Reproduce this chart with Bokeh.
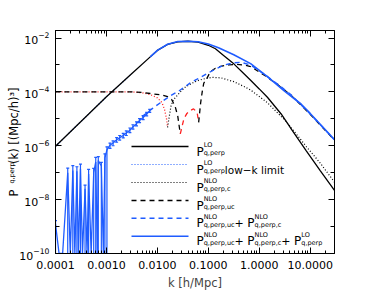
import numpy as np
from bokeh.plotting import figure
from bokeh.models import (LogAxis, FixedTicker, PrintfTickFormatter, LogTickFormatter,
                          Label, Range1d, Whisker, ColumnDataSource, TeeHead)
from bokeh.embed import file_html
from bokeh.resources import INLINE

# ---------------- data: log10 k [h/Mpc], log10 |P| [(Mpc/h)^3] ----------------
# P^LO_q,perp (black solid)
lo_logk = [-4.0, -3.5, -3.0, -2.5, -2.14, -2.0, -1.8, -1.6, -1.4, -1.2, -1.0, -0.86,
           -0.7, -0.5, -0.3, -0.17, 0.0, 0.16, 0.43, 0.63, 0.92, 1.2, 1.48]
lo_logP = [-6.02, -5.10, -4.18, -3.32, -2.70, -2.46, -2.24, -2.14, -2.12, -2.15, -2.27, -2.40,
           -2.65, -2.96, -3.33, -3.57, -3.89, -4.20, -4.82, -5.38, -6.18, -6.93, -7.67]
# low-k limit (blue dotted), follows LO at low k
lowk_logk = [-4.0, -3.5, -3.0, -2.5]
lowk_logP = [-6.02, -5.10, -4.18, -3.32]
# total P^NLO_uc + P^NLO_c + P^LO (blue solid)
tot_logk = [-2.14, -2.0, -1.8, -1.6, -1.4, -1.2, -1.0, -0.8, -0.5, -0.17, 0.16, 0.49, 0.82, 1.0, 1.22, 1.48]
tot_logP = [-2.70, -2.46, -2.23, -2.13, -2.12, -2.14, -2.22, -2.36, -2.62, -2.95, -3.43, -3.96, -4.45, -4.80, -5.25, -5.78]
# P^NLO_q,perp,uc (dashed): positive part 1, negative part (red), positive part 2
uc_pos1_logk = [-4.0, -3.0, -2.5, -2.3, -2.14, -1.9, -1.8, -1.72, -1.65, -1.6, -1.55]
uc_pos1_logP = [-4.0, -4.0, -4.0, -4.02, -4.06, -4.12, -4.18, -4.28, -4.55, -4.90, -5.56]
uc_neg_logk = [-1.55, -1.48, -1.42, -1.35, -1.29, -1.22, -1.19]
uc_neg_logP = [-5.56, -5.00, -4.80, -4.69, -4.63, -4.76, -5.13]
uc_pos2_logk = [-1.19, -1.15, -1.12, -1.09, -1.02, -0.96, -0.86, -0.76, -0.6, -0.45, -0.3, -0.17,
                0.1, 0.36, 0.62, 1.0, 1.48]
uc_pos2_logP = [-5.13, -4.40, -4.00, -3.68, -3.47, -3.25, -3.12, -3.05, -3.00, -2.98, -3.00, -3.06,
                -3.38, -3.73, -4.12, -4.83, -5.80]
# P^NLO_q,perp,c (dotted): negative part (red), positive part (black)
c_neg_logk = [-4.0, -3.0, -2.5, -2.3, -2.14, -2.0, -1.91, -1.86, -1.82, -1.80]
c_neg_logP = [-4.0, -4.0, -4.0, -4.03, -4.10, -4.22, -4.40, -4.65, -5.00, -5.32]
c_pos_logk = [-1.80, -1.77, -1.73, -1.68, -1.55, -1.45, -1.3, -1.19, -1.05, -0.92, -0.75, -0.5,
              -0.3, -0.17, 0.16, 0.36, 0.53, 0.92, 1.2, 1.48]
c_pos_logP = [-5.32, -4.95, -4.50, -4.28, -4.00, -3.82, -3.66, -3.57, -3.50, -3.46, -3.48, -3.62,
              -3.80, -3.93, -4.40, -4.78, -5.10, -6.02, -6.65, -7.36]
# P^NLO_uc + P^NLO_c (blue dashed)
ucc_logk = [-2.3, -2.1, -1.94, -1.75, -1.58, -1.35, -1.22, -1.0, -0.89, -0.69, -0.5, -0.36,
            -0.17, 0.1, 0.36, 0.62, 1.0, 1.48]
ucc_logP = [-4.92, -4.62, -4.40, -4.15, -3.97, -3.66, -3.53, -3.30, -3.18, -3.00, -2.92, -2.90,
            -3.00, -3.35, -3.71, -4.10, -4.82, -5.79]
# measured sum (blue, with error bars); -10 marks negative values (clipped at the floor)
sim_logk = [-4.00, -3.93, -3.86, -3.76, -3.71, -3.66, -3.62, -3.58, -3.55, -3.51, -3.47, -3.42,
            -3.38, -3.35, -3.30, -3.25, -3.21, -3.18, -3.16, -3.10, -3.06, -3.03, -2.99, -2.93,
            -2.87, -2.80, -2.74, -2.67, -2.61, -2.54, -2.48, -2.41, -2.35, -2.28, -2.21, -2.15]
sim_logP = [-8.90, -10, -10, -7.00, -10, -6.92, -10, -6.95, -10, -6.85, -10, -7.60,
            -10, -7.05, -10, -7.00, -6.60, -10, -6.55, -6.75, -10, -6.45, -6.15, -5.98,
            -5.90, -5.78, -5.70, -5.62, -5.53, -5.42, -5.30, -5.18, -5.06, -4.95, -4.82, -4.70]
sim_hi = [-8.78, -10, -10, -6.83, -10, -6.74, -10, -6.78, -10, -6.68, -10, -7.46,
          -10, -6.88, -10, -6.84, -6.43, -10, -6.40, -6.62, -10, -6.30, -6.04, -5.90,
          -5.82, -5.70, -5.62, -5.54, -5.45, -5.34, -5.22, -5.11, -4.99, -4.88, -4.76, -4.65]
sim_lo = [-10, -10, -10, -10, -10, -10, -10, -10, -10, -10, -10, -10,
          -10, -10, -10, -10, -10, -10, -10, -10, -10, -10, -10, -6.10,
          -6.00, -5.87, -5.79, -5.71, -5.62, -5.51, -5.38, -5.26, -5.14, -5.03, -4.89, -4.76]

x_major = [1e-4, 1e-3, 1e-2, 1e-1, 1e0, 1e1]
y_major = [1e-10, 1e-8, 1e-6, 1e-4, 1e-2]
y_minor = [1e-9, 1e-7, 1e-5, 1e-3]

BLUE = "#1f5cff"
RED = "#ff2020"
BLACK = "#000000"
FONT = "DejaVu Sans"

XL, XR = 1e-4, 30.0
YB, YT = 1e-10, 1.9e-2
W, H = 370, 296
ML, MR, MT, MB = 55, 36, 30, 43
FW, FH = W - ML - MR, H - MT - MB
OFF = 0  # page offset of the figure in the screenshot

def P(a):
    return [10.0 ** v for v in a]

# image-pixel -> data helpers (for annotation placement only)
def px2x(px):
    f = (px - OFF - ML) / FW
    return 10 ** (np.log10(XL) + f * (np.log10(XR) - np.log10(XL)))

def px2y(py):
    f = (MT + FH - (py - OFF)) / FH
    return 10 ** (np.log10(YB) + f * (np.log10(YT) - np.log10(YB)))

p = figure(width=W, height=H, x_axis_type="log", y_axis_type="log",
           x_range=Range1d(XL, XR), y_range=Range1d(YB, YT),
           output_backend="svg", toolbar_location=None,
           min_border_left=ML, min_border_right=MR, min_border_top=MT, min_border_bottom=MB)
p.grid.visible = False
p.outline_line_color = BLACK
p.background_fill_color = "white"
p.border_fill_color = "white"

x_minor = [m * 10.0 ** e for e in range(-4, 2) for m in range(2, 10) if m * 10.0 ** e < XR]

def style_x(ax, labels):
    ax.ticker = FixedTicker(ticks=x_major, minor_ticks=x_minor)
    ax.major_tick_in, ax.major_tick_out = 6, 0
    ax.minor_tick_in, ax.minor_tick_out = 3, 0
    ax.axis_line_color = BLACK
    ax.major_tick_line_color = BLACK
    ax.minor_tick_line_color = BLACK
    if labels:
        ax.formatter = PrintfTickFormatter(format="%.4f")
        ax.major_label_text_font = FONT
        ax.major_label_text_font_size = "11px"
        ax.major_label_text_color = BLACK
        ax.major_label_standoff = 7
    else:
        ax.major_label_text_font_size = "1px"
        ax.major_label_text_alpha = 0.0
        ax.major_label_standoff = 0

def style_y(ax, labels):
    ax.ticker = FixedTicker(ticks=y_major, minor_ticks=y_minor)
    ax.major_tick_in, ax.major_tick_out = 6, 0
    ax.minor_tick_in, ax.minor_tick_out = 4, 0
    ax.axis_line_color = BLACK
    ax.major_tick_line_color = BLACK
    ax.minor_tick_line_color = BLACK
    if labels:
        ax.formatter = LogTickFormatter()
        ax.major_label_text_font = FONT
        ax.major_label_text_font_size = "11px"
        ax.major_label_text_color = BLACK
        ax.major_label_standoff = 6
    else:
        ax.major_label_text_font_size = "1px"
        ax.major_label_text_alpha = 0.0
        ax.major_label_standoff = 0

style_x(p.xaxis[0], True)
p.xaxis[0].axis_label = "k [h/Mpc]"
p.xaxis[0].axis_label_text_font = FONT
p.xaxis[0].axis_label_text_font_size = "11.5px"
p.xaxis[0].axis_label_text_font_style = "normal"
p.xaxis[0].axis_label_standoff = 4
style_y(p.yaxis[0], True)

top = LogAxis()
style_x(top, False)
p.add_layout(top, "above")
right = LogAxis()
style_y(right, False)
p.add_layout(right, "right")

# ---------------- y-axis label ----------------
# subscript: the axis' own label (pushed down with no-break spaces);
# main text: label of an outer tick-less axis, pulled in so it overlaps like a subscript line
NB = "\u00a0"
p.yaxis[0].axis_label = "q,perp" + NB * 30
p.yaxis[0].axis_label_text_font = FONT
p.yaxis[0].axis_label_text_font_size = "6.5px"
p.yaxis[0].axis_label_text_font_style = "normal"
p.yaxis[0].axis_label_text_color = BLACK
p.yaxis[0].axis_label_standoff = 0

outer = LogAxis(ticker=FixedTicker(ticks=[]))
outer.axis_line_color = None
outer.major_tick_line_color = None
outer.minor_tick_line_color = None
outer.major_label_standoff = 0
outer.major_tick_in = outer.major_tick_out = 0
outer.minor_tick_in = outer.minor_tick_out = 0
outer.axis_label = "P" + NB * 7 + "(k) [(Mpc/h)\u00b3]"
outer.axis_label_text_font = FONT
outer.axis_label_text_font_size = "11.5px"
outer.axis_label_text_font_style = "normal"
outer.axis_label_text_color = BLACK
outer.axis_label_standoff = -15
p.add_layout(outer, "left")

# ---------------- curves ----------------
p.line(P(lowk_logk), P(lowk_logP), line_color=BLUE, line_dash="1 2", line_width=1.2)
p.line(P(c_neg_logk), P(c_neg_logP), line_color=RED, line_dash="1 2", line_width=1.3)
p.line(P(c_pos_logk), P(c_pos_logP), line_color=BLACK, line_dash="1 2", line_width=1.2)
p.line(P(uc_pos1_logk), P(uc_pos1_logP), line_color=BLACK, line_dash="5 4", line_width=1.3)
p.line(P(uc_neg_logk), P(uc_neg_logP), line_color=RED, line_dash="5 4", line_width=1.3)
p.line(P(uc_pos2_logk), P(uc_pos2_logP), line_color=BLACK, line_dash="5 4", line_width=1.3)
p.line(P(ucc_logk), P(ucc_logP), line_color=BLUE, line_dash="5 4", line_width=1.4)

# measured data with error bars
p.line(P(sim_logk), P(sim_logP), line_color=BLUE, line_width=1.3)
eb = [i for i in range(len(sim_logk)) if sim_hi[i] > -10]
src = ColumnDataSource(dict(k=[10 ** sim_logk[i] for i in eb],
                            hi=[10 ** sim_hi[i] for i in eb],
                            lo=[10 ** sim_lo[i] for i in eb]))
p.add_layout(Whisker(source=src, base="k", upper="hi", lower="lo", dimension="height",
                     line_color=BLUE, line_width=1.2,
                     upper_head=TeeHead(size=3, line_color=BLUE, line_width=1.2),
                     lower_head=TeeHead(size=3, line_color=BLUE, line_width=1.2)))

p.line(P(lo_logk), P(lo_logP), line_color=BLACK, line_width=1.3)
p.line(P(tot_logk), P(tot_logP), line_color=BLUE, line_width=1.6)

# ---------------- manual legend ----------------
WID = {'P': .603, 'L': .557, 'O': .787, 'N': .748, 'q': .635, 'p': .635, 'e': .615, 'r': .411,
       'c': .55, 'u': .634, ',': .318, 'l': .278, 'o': .612, 'w': .818, '\u2212': .838,
       'k': .579, ' ': .318, 'i': .278, 'm': .974, 't': .392, '+': .838, '(': .39, ')': .39,
       '[': .39, ']': .39, 'M': .863, '/': .337, 'h': .634, '3': .636}

def tw(s, size):
    return sum(WID.get(ch, .6) for ch in s) * size

def lab(x, y, text, size, angle=0.0):
    p.add_layout(Label(x=x, y=y, text=text, text_font=FONT, text_font_size=f"{size}px",
                       text_color=BLACK, text_baseline="alphabetic", text_align="left",
                       angle=angle))

def rich(x0, base, parts):
    """parts: list of (kind, text); kind 'n' normal, 'ss' (sup, sub) pair"""
    x = x0
    for kind, t in parts:
        if kind == "n":
            lab(px2x(x), px2y(base), t, 12 if t == "P" else 11)
            x += tw(t, 12 if t == "P" else 11)
        elif kind == "t":
            lab(px2x(x), px2y(base), t, 10.5)
            x += tw(t, 10.5)
        else:
            sup, sub = t
            lab(px2x(x), px2y(base - 6.3), sup, 6.5)
            lab(px2x(x), px2y(base + 1.5), sub, 6.5)
            x += max(tw(sup, 6.5), tw(sub, 6.5))

entries = [
    (dict(line_color=BLACK, line_width=1.3), [("n", "P"), ("ss", ("LO", "q,perp"))]),
    (dict(line_color=BLUE, line_width=1.2, line_dash="1 2"),
     [("n", "P"), ("ss", ("LO", "q,perp")), ("t", "low\u2212k limit")]),
    (dict(line_color=BLACK, line_width=1.2, line_dash="1 2"), [("n", "P"), ("ss", ("NLO", "q,perp,c"))]),
    (dict(line_color=BLACK, line_width=1.3, line_dash="5 4"), [("n", "P"), ("ss", ("NLO", "q,perp,uc"))]),
    (dict(line_color=BLUE, line_width=1.4, line_dash="5 4"),
     [("n", "P"), ("ss", ("NLO", "q,perp,uc")), ("n", "+ "), ("n", "P"), ("ss", ("NLO", "q,perp,c"))]),
    (dict(line_color=BLUE, line_width=1.6),
     [("n", "P"), ("ss", ("NLO", "q,perp,uc")), ("n", "+ "), ("n", "P"), ("ss", ("NLO", "q,perp,c")),
      ("n", "+ "), ("n", "P"), ("ss", ("LO", "q,perp"))]),
]
bases = [151, 169, 187, 205, 222.7, 240.7]
for (style, parts), b in zip(entries, bases):
    p.line([px2x(131), px2x(188)], [px2y(b - 5), px2y(b - 5)], **style)
    rich(196, b, parts)

open("out.html", "w").write(file_html(p, INLINE))
